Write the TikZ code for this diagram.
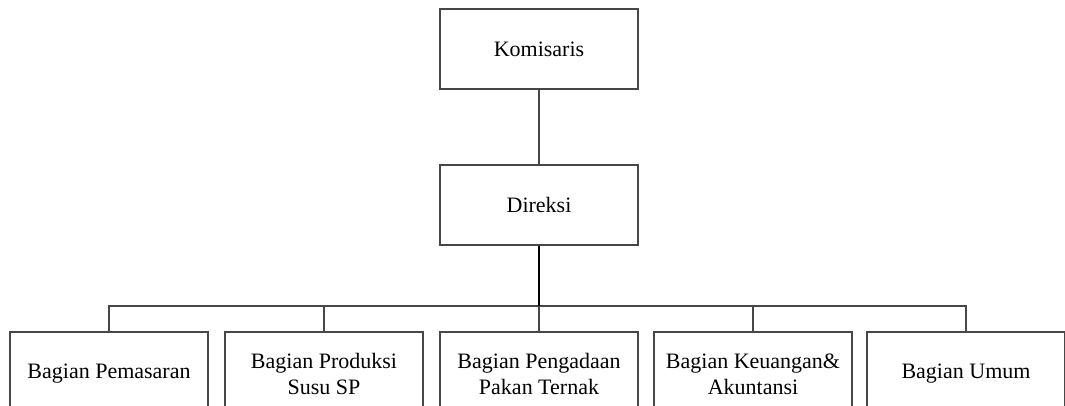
\documentclass[tikz,border=0pt]{standalone}
\usepackage{fontspec}
\setmainfont{Liberation Serif}
\begin{document}
\begin{tikzpicture}[x=1pt,y=-1pt,
  orgbox/.style={draw=black!72,line width=1.4pt,fill=white,minimum width=198pt,minimum height=80pt,inner sep=0pt,align=center,
    font=\fontsize{22}{26}\selectfont},
  lowbox/.style={orgbox,minimum height=84pt},
  conn/.style={draw=black!72,line width=1.3pt},
  mainconn/.style={draw=black,line width=2pt}]
\useasboundingbox (0,0) rectangle (1065,405);
\clip (0,0) rectangle (1065,405);
\node[orgbox] (kom) at (539,49) {Komisaris};
\node[orgbox] (dir) at (539,205) {Direksi};
\coordinate (bus) at (539,306);
\node[lowbox] (b1) at (109,374) {Bagian Pemasaran};
\node[lowbox] (b2) at (324,374) {Bagian Produksi\\Susu SP};
\node[lowbox] (b3) at (539,374) {Bagian Pengadaan\\Pakan Ternak};
\node[lowbox] (b4) at (753,374) {Bagian Keuangan\&\\Akuntansi};
\node[lowbox] (b5) at (966,374) {Bagian Umum};
\draw[conn] (kom) -- (dir);
\draw[conn] (bus) -| (b1.north);
\draw[conn] (bus) -| (b2.north);
\draw[conn] (bus) -| (b4.north);
\draw[conn] (bus) -| (b5.north);
\draw[mainconn] (dir.south) -- (bus);
\draw[conn] (bus) -- (b3.north);
\end{tikzpicture}
\end{document}
